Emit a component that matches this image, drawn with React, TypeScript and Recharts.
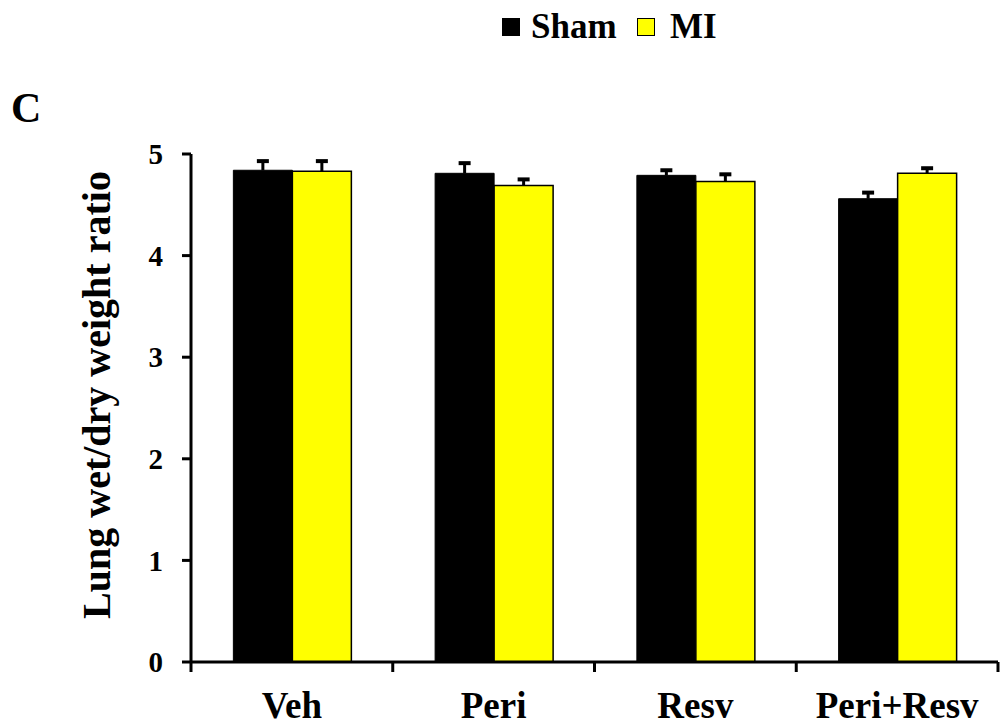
import { Bar, BarChart, Rectangle, XAxis, YAxis } from "recharts";

const groups = ["Veh", "Peri", "Resv", "Peri+Resv"];
const shamValues = [4.84, 4.81, 4.79, 4.56];
const shamErrors = [0.09, 0.1, 0.05, 0.06];
const miValues = [4.83, 4.69, 4.73, 4.81];
const miErrors = [0.1, 0.06, 0.07, 0.05];
const yTicks = [0, 1, 2, 3, 4, 5];

const FONT = "'Liberation Serif', 'Times New Roman', serif";
const YELLOW = "#FFFF00";

const data = groups.map((g, i) => ({
  group: g,
  sham: shamValues[i],
  shamErr: shamErrors[i],
  mi: miValues[i],
  miErr: miErrors[i],
}));

// category label, plus tick marks on the group boundaries
// (the original axis puts its ticks between the bar pairs)
function GroupTick(props: any) {
  const { x, y, payload, index, visibleTicksCount } = props;
  const half = payload.offset || 0;
  const last = index === (visibleTicksCount ?? groups.length) - 1;
  return (
    <g>
      <line x1={x - half} x2={x - half} y1={y} y2={y + 10} stroke="#000" strokeWidth={3} />
      {last && <line x1={x + half} x2={x + half} y1={y} y2={y + 10} stroke="#000" strokeWidth={3} />}
      <text x={x} y={y + 56} textAnchor="middle" fontFamily={FONT} fontWeight="bold" fontSize={37} fill="#000">
        {payload.value}
      </text>
    </g>
  );
}

// bar + upper-only SEM whisker; the whisker length comes from the bar's own
// pixels-per-unit so it stays on the y scale
function barWithError(errKey: string, valKey: string) {
  return (props: any) => {
    const { x, y, width, height, payload } = props;
    const perUnit = height / payload[valKey];
    const top = y - payload[errKey] * perUnit;
    const cx = x + width / 2;
    return (
      <g>
        <Rectangle {...props} />
        <line x1={cx} x2={cx} y1={y} y2={top} stroke="#000" strokeWidth={3} />
        <line x1={cx - 6} x2={cx + 6} y1={top} y2={top} stroke="#000" strokeWidth={4} />
      </g>
    );
  };
}

const legendText = { position: "absolute" as const, top: 9, fontFamily: FONT, fontWeight: "bold" as const, fontSize: 35, lineHeight: 1 };
const legendBox = { position: "absolute" as const, top: 18, width: 18, height: 18, border: "1.5px solid #000", boxSizing: "border-box" as const };

export default function App() {
  return (
    <div style={{ position: "absolute", left: 0, top: 0, width: 1000, height: 728, background: "#fff" }}>
      <div style={{ position: "absolute", left: 11, top: 84, fontFamily: FONT, fontWeight: "bold", fontSize: 42 }}>C</div>
      <div style={{ ...legendBox, left: 502, background: "#000" }} />
      <div style={{ ...legendText, left: 531 }}>Sham</div>
      <div style={{ ...legendBox, left: 637, background: YELLOW }} />
      <div style={{ ...legendText, left: 670 }}>MI</div>
      <BarChart
        width={1000}
        height={728}
        data={data}
        margin={{ top: 154, right: 2, left: 0, bottom: 0 }}
        barCategoryGap="21%"
        barGap={0}
      >
        <XAxis
          dataKey="group"
          height={66}
          axisLine={{ stroke: "#000", strokeWidth: 3 }}
          tickLine={false}
          tickSize={0}
          tickMargin={0}
          tick={<GroupTick />}
          interval={0}
        />
        <YAxis
          width={191}
          domain={[0, 5]}
          ticks={yTicks}
          axisLine={{ stroke: "#000", strokeWidth: 3 }}
          tickLine={{ stroke: "#000", strokeWidth: 3 }}
          tickSize={9}
          tickMargin={19}
          tick={{ fill: "#000", fontFamily: FONT, fontWeight: "bold", fontSize: 29 }}
          label={{
            value: "Lung wet/dry weight ratio",
            angle: -90,
            position: "center",
            dx: 0,
            dy: -13,
            fill: "#000",
            fontFamily: FONT,
            fontWeight: "bold",
            fontSize: 40,
          }}
        />
        <Bar dataKey="sham" fill="#000" stroke="#000" strokeWidth={1} shape={barWithError("shamErr", "sham")} isAnimationActive={false} />
        <Bar dataKey="mi" fill={YELLOW} stroke="#000" strokeWidth={1.5} shape={barWithError("miErr", "mi")} isAnimationActive={false} />
      </BarChart>
    </div>
  );
}
